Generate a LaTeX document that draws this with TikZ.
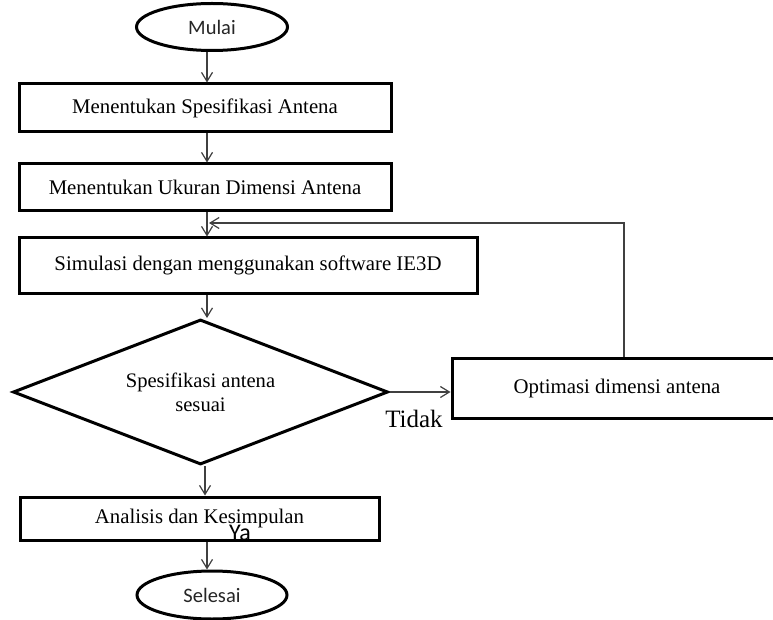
\documentclass[tikz,border=0pt]{standalone}
\usepackage{fontspec}
\setmainfont{Liberation Serif}
\newfontfamily\calib{Carlito}
\usetikzlibrary{shapes.geometric,arrows.meta}
\begin{document}
\begin{tikzpicture}[x=1pt,y=-1pt,
  boxstyle/.style={draw=black,line width=3pt,rectangle,inner sep=0pt,font=\fontsize{20.8}{24}\selectfont},
  termstyle/.style={draw=black,line width=3pt,ellipse,inner sep=0pt,font=\calib\fontsize{20.5}{24}\selectfont,text=black!85},
  decstyle/.style={draw=black,line width=3pt,diamond,aspect=2.6,inner sep=0pt,minimum width=375pt,minimum height=145pt,align=center,font=\fontsize{20.6}{24}\selectfont},
  arr/.style={draw=black!75,line width=1.2pt,-{Straight Barb[length=9pt,width=11pt,line width=1.2pt]}},
  lbl/.style={inner sep=0pt}
]
\useasboundingbox (0,0) rectangle (773,620);
\fill[white] (0,0) rectangle (773,620);

\node[termstyle,minimum width=151pt,minimum height=47pt] (mulai) at (212,27) {Mulai};
\node[boxstyle,minimum width=372pt,minimum height=48pt] (b1) at (205,108) {Menentukan Spesifikasi Antena};
\node[boxstyle,minimum width=372pt,minimum height=47pt] (b2) at (205,187.5) {Menentukan Ukuran Dimensi Antena};
\node[boxstyle,minimum width=458pt,minimum height=55pt] (b3) at (248,265.5) {Simulasi dengan menggunakan software IE3D};
\node[decstyle] (dia) at (200.5,392) {Spesifikasi antena\\sesuai};
\node[boxstyle,minimum width=330pt,minimum height=60pt] (opt) at (617,388) {Optimasi dimensi antena};
\node[boxstyle,minimum width=359pt,minimum height=43pt] (b4) at (199.5,518.5) {Analisis dan Kesimpulan};
\node[termstyle,minimum width=150pt,minimum height=48pt] (selesai) at (212,595) {Selesai};

\node[lbl,font=\fontsize{25}{28}\selectfont,anchor=base] (tidak) at (414,427) {Tidak};
\node[lbl,font=\calib\fontsize{24}{28}\selectfont,anchor=base] (ya) at (240,540) {Ya};

\coordinate (ax) at (207,0);
\coordinate (axb) at (205,0);
\coordinate (fbx) at (624,0);
\coordinate (fbend) at (209,223);

\draw[arr] (mulai.south -| ax) -- (b1.north -| ax);
\draw[arr] (b1.south -| ax) -- (b2.north -| ax);
\draw[arr] (b2.south -| ax) -- (b3.north -| ax);
\draw[arr] (b3.south -| ax) -- (dia.north -| ax);
\draw[arr] (dia.east) -- (dia.east -| opt.west);
\draw[arr] (dia.south -| axb) -- (b4.north -| axb);
\draw[arr] (b4.south -| ax) -- (selesai.north -| ax);
\draw[arr] (opt.north -| fbx) |- (fbend);
\end{tikzpicture}
\end{document}
